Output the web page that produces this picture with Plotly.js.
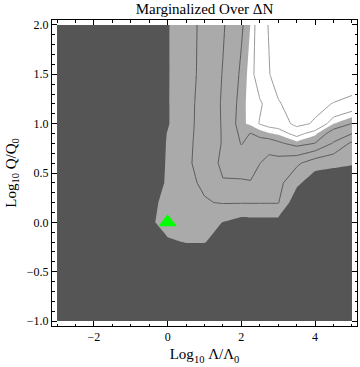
<!DOCTYPE html>
<html>
<head>
<meta charset="utf-8">
<script src="https://cdn.plot.ly/plotly-3.0.1.min.js"></script>
<style>
  html, body { margin: 0; padding: 0; background: #fff; }
  #chart { width: 360px; height: 367px; }
</style>
</head>
<body>
<div id="chart"></div>
<script>
// grid: log10 Lambda/Lambda0 (x) and log10 Q/Q0 (y)
var xVals = [-3, -0.5, 0, 0.5, 1, 1.5, 2, 2.25, 2.5, 2.75, 3, 3.5, 4, 4.5, 5];
var yVals = [-1, -0.4, -0.2, 0, 0.2, 0.4, 0.6, 0.8, 0.9, 1.0, 1.2, 1.5, 2];

// level on the grid, one row per y value (bottom to top)
var zRows = [
  [0, 0, 0, 0, 0, 0, 0, 0, 0, 0, 0, 0, 0, 0, 0],
  [0, 0, 0, 0, 0, 0, 0, 0, 0, 0, 0, 0, 0, 0, 0],
  [0, 0, 0.8, 1.05, 1.05, 0.5, 0, 0, 0, 0, 0, 0, 0, 0, 0],
  [0, 0.7, 1.6, 1.6, 1.4, 0.98, 0.6, 0.65, 0.65, 0.65, 0.65, 0, 0, 0, 0],
  [0, 0.4, 1.6, 1.85, 1.95, 2.05, 2.05, 2.05, 2.05, 2.05, 2.05, 0.3, 0, 0, 0],
  [0, 0.1, 1.2, 1.85, 2.1, 2.9, 2.9, 2.95, 2.5, 2.3, 2.3, 1.23, 0.4, 0.3, 0.2],
  [0, 0, 1.15, 1.93, 2.15, 3.3, 3.4, 3.35, 3.02, 2.55, 2.55, 2.19, 1.4, 1.23, 1.09],
  [0, 0, 1.1, 1.94, 2.1, 3.1, 4.05, 3.7, 3.7, 3.6, 3.85, 4.3, 3.98, 2.9, 1.8],
  [0, 0, 1.05, 1.93, 2.1, 3.1, 4.2, 3.98, 4.2, 4.45, 4.6, 5.3, 4.625, 3.6, 3.02],
  [0, 0, 0.9, 1.92, 2.1, 3.12, 4.4, 4.6, 5.05, 5.3, 5.4, 6.3, 5.875, 4.52, 3.98],
  [0, 0, 0.9, 1.93, 2.08, 3.15, 4.3, 4.72, 4.9, 5.26, 5.9, 6.5, 6.3, 5.95, 5.6],
  [0, 0, 0.92, 1.72, 2.22, 3.05, 4.15, 4.73, 5.48, 5.95, 6.5, 6.9, 7, 7, 7],
  [0, 0, 0.95, 1.48, 2.35, 2.9, 3.88, 4.52, 5.54, 6.06, 6.4, 6.8, 7, 7, 7]
];

// best fit point
var bestX = [0];
var bestY = [0];

var serif = 'Liberation Serif, Times New Roman, serif';

// shaded regions: dark / light / white
var shade = {
  type: 'contour', x: xVals, y: yVals, z: zRows,
  autocontour: false,
  contours: { start: 1, end: 4.5, size: 3.5, coloring: 'fill', showlines: false },
  colorscale: [[0, '#555555'], [0.5, '#aaaaaa'], [1, '#ffffff']],
  line: { width: 0, smoothing: 0 },
  showscale: false, hoverinfo: 'skip'
};

// contour lines inside the grey band
var innerLines = {
  type: 'contour', x: xVals, y: yVals, z: zRows,
  autocontour: false,
  contours: { start: 2, end: 4, size: 1, coloring: 'none' },
  line: { color: '#5a5a5a', width: 1, smoothing: 0 },
  showscale: false, hoverinfo: 'skip'
};

// contour lines inside the white region
var outerLines = {
  type: 'contour', x: xVals, y: yVals, z: zRows,
  autocontour: false,
  contours: { start: 5, end: 6, size: 1, coloring: 'none' },
  line: { color: '#999999', width: 1, smoothing: 0 },
  showscale: false, hoverinfo: 'skip'
};

var best = {
  type: 'scatter', mode: 'markers', x: bestX, y: bestY,
  marker: { symbol: 'triangle-up', size: 16, color: '#00ff00' },
  hoverinfo: 'skip'
};

var axisCommon = {
  showgrid: false, zeroline: false,
  showline: true, linecolor: 'black', linewidth: 1, mirror: 'allticks',
  ticks: 'inside', ticklen: 5, tickwidth: 1, tickcolor: 'black',
  tickfont: { family: serif, size: 12, color: 'black' }
};

var layout = {
  width: 360, height: 367,
  margin: { l: 52, r: 3, t: 20, b: 41 },
  paper_bgcolor: 'white', plot_bgcolor: 'white',
  font: { family: serif, color: 'black' },
  showlegend: false,
  title: {
    text: 'Marginalized Over ΔN',
    font: { family: serif, size: 15, color: 'black' },
    x: 0.5, xref: 'paper', y: 0.977, yref: 'container', yanchor: 'middle'
  },
  xaxis: Object.assign({}, axisCommon, {
    range: [-3.136, 5.136], tick0: 0, dtick: 2,
    minor: { dtick: 0.5, ticks: 'inside', ticklen: 2.5, tickcolor: 'black' },
    title: { text: 'Log<sub>10</sub> Λ/Λ<sub>0</sub>', font: { family: serif, size: 15 }, standoff: 5 }
  }),
  yaxis: Object.assign({}, axisCommon, {
    range: [-1.05, 2.05], tick0: 0, dtick: 0.5, tickformat: '.1f',
    minor: { dtick: 0.1, ticks: 'inside', ticklen: 2.5, tickcolor: 'black' },
    title: { text: 'Log<sub>10</sub> Q/Q<sub>0</sub>', font: { family: serif, size: 15 }, standoff: 6 }
  })
};

Plotly.newPlot('chart', [shade, innerLines, outerLines, best], layout, { staticPlot: true });
</script>
</body>
</html>
